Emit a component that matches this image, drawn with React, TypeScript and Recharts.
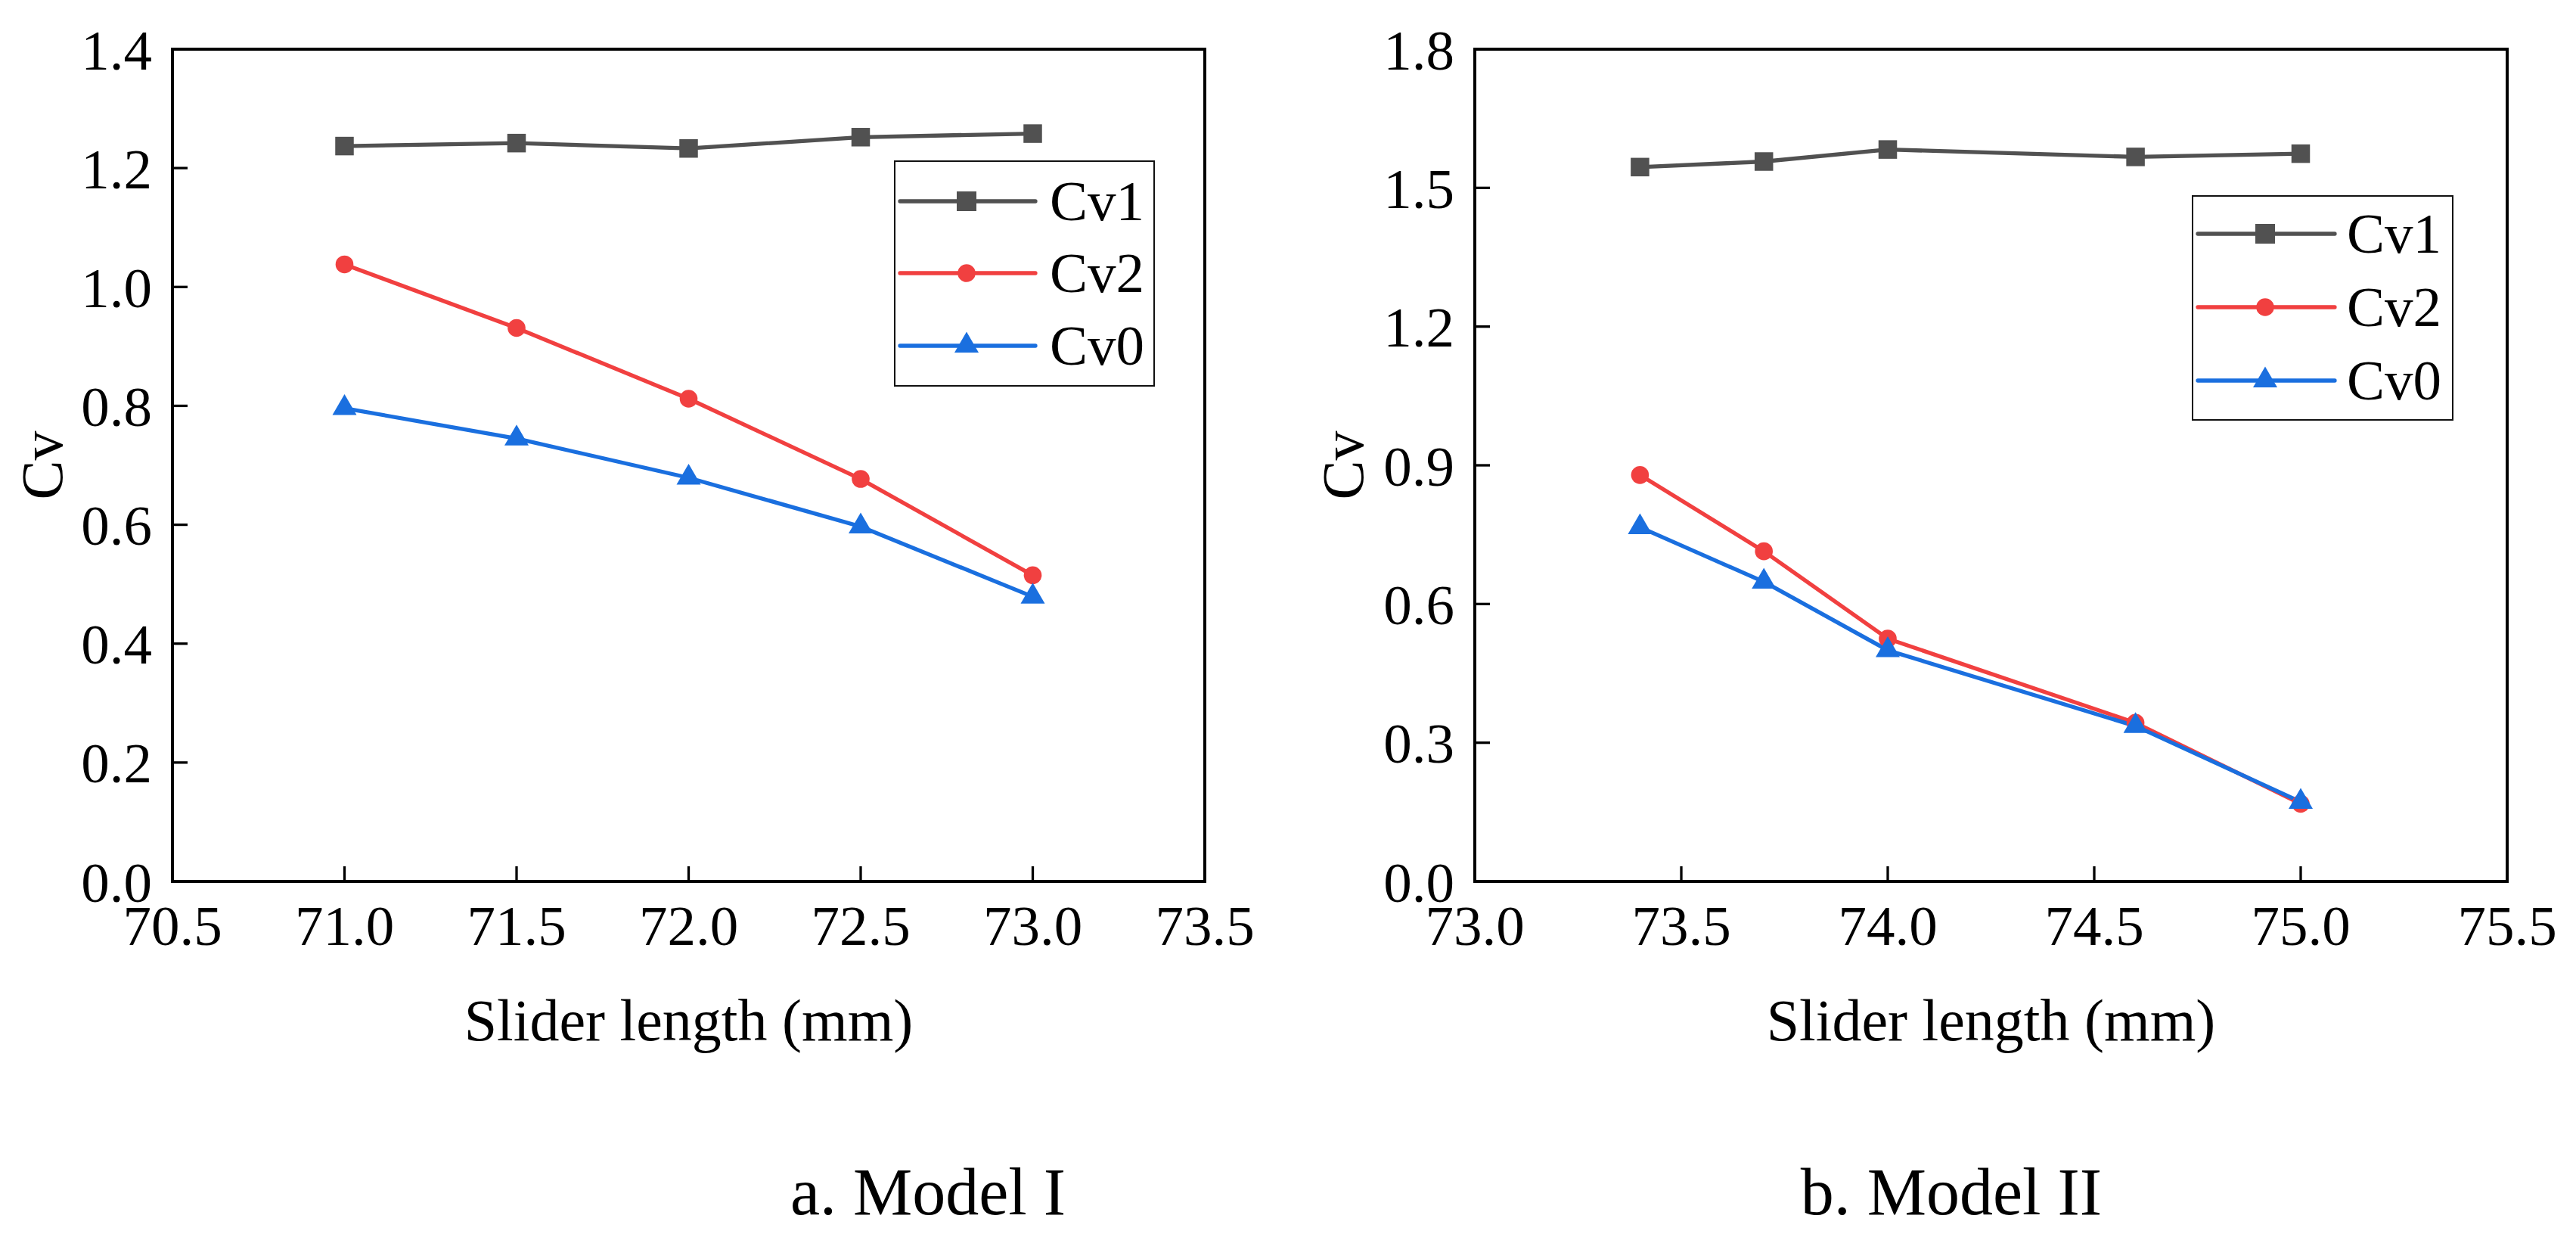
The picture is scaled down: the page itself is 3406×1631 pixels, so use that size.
import React from 'react';
import { LineChart, Line, XAxis, YAxis, Legend, Label } from 'recharts';

const FONT = "'Liberation Serif', 'Times New Roman', Times, serif";
const W = 1703;
const H = 1631;

// ---- Model I ----
const sliderI = [71.0, 71.5, 72.0, 72.5, 73.0];
const cv1I = [1.237, 1.242, 1.233, 1.252, 1.258];
const cv2I = [1.038, 0.931, 0.812, 0.677, 0.515];
const cv0I = [0.796, 0.745, 0.679, 0.597, 0.479];
const xTicksI = [70.5, 71.0, 71.5, 72.0, 72.5, 73.0, 73.5];
const yTicksI = [0, 0.2, 0.4, 0.6, 0.8, 1.0, 1.2, 1.4];

// ---- Model II ----
const sliderII = [73.4, 73.7, 74.0, 74.6, 75.0];
const cv1II = [1.545, 1.557, 1.583, 1.567, 1.574];
const cv2II = [0.879, 0.714, 0.525, 0.343, 0.168];
const cv0II = [0.766, 0.648, 0.5, 0.336, 0.172];
const xTicksII = [73.0, 73.5, 74.0, 74.5, 75.0, 75.5];
const yTicksII = [0, 0.3, 0.6, 0.9, 1.2, 1.5, 1.8];

const seriesNames = ['Cv1', 'Cv2', 'Cv0'];
const seriesColors = ['#515151', '#F14040', '#1A6FDF'];
const seriesShapes = ['square', 'circle', 'triangle'];

const captions = ['a. Model I', 'b. Model II'];

const dataI = sliderI.map((x, i) => ({ x, Cv1: cv1I[i], Cv2: cv2I[i], Cv0: cv0I[i] }));
const dataII = sliderII.map((x, i) => ({ x, Cv1: cv1II[i], Cv2: cv2II[i], Cv0: cv0II[i] }));

function Marker({ shape, cx, cy, color, big }: { shape: string; cx: number; cy: number; color: string; big?: boolean }) {
  if (shape === 'square') {
    const s = big ? 26 : 24.5;
    return <rect x={cx - s / 2} y={cy - s / 2} width={s} height={s} fill={color} />;
  }
  if (shape === 'circle') {
    return <circle cx={cx} cy={cy} r={big ? 11.8 : 11.8} fill={color} />;
  }
  return <polygon points={`${cx - 16},${cy + 9} ${cx + 16},${cy + 9} ${cx},${cy - 18.5}`} fill={color} />;
}

type LegendCfg = {
  left: number;
  top: number;
  w: number;
  h: number;
  rows: number[];
  line: [number, number];
  mark: number;
  text: number;
};

const makeLegend = (cfg: LegendCfg) => (props: any) => {
  const payload = props.payload || [];
  return (
    <svg width={cfg.w} height={cfg.h} style={{ display: 'block' }}>
      <rect x={1} y={1} width={cfg.w - 2} height={cfg.h - 2} fill="#fff" stroke="#111" strokeWidth={2} />
      {payload.map((entry: any) => {
        const idx = seriesNames.indexOf(entry.value);
        if (idx < 0) return null;
        const y = cfg.rows[idx];
        const color = seriesColors[idx];
        return (
          <g key={entry.value}>
            <line x1={cfg.line[0]} x2={cfg.line[1]} y1={y} y2={y} stroke={color} strokeWidth={5.3} strokeLinecap="round" />
            <Marker shape={seriesShapes[idx]} cx={cfg.mark} cy={y} color={color} big />
            <text x={cfg.text} y={y + 25} fontSize={75} fontFamily={FONT} fill="#000">
              {entry.value}
            </text>
          </g>
        );
      })}
    </svg>
  );
};

const XTick = (props: any) => (
  <text
    x={props.x}
    y={props.y}
    dy="0.71em"
    textAnchor="middle"
    fontSize={75}
    fontFamily={FONT}
    fill="#000"
  >
    {Number(props.payload.value).toFixed(1)}
  </text>
);

const YTick = (props: any) => (
  <text
    x={props.x}
    y={props.y}
    dy="0.355em"
    textAnchor="end"
    fontSize={75}
    fontFamily={FONT}
    fill="#000"
  >
    {Number(props.payload.value).toFixed(1)}
  </text>
);

type PanelProps = {
  left: number;
  data: any[];
  xDomain: [number, number];
  xTicks: number[];
  yDomain: [number, number];
  yTicks: number[];
  margin: { top: number; right: number; bottom: number; left: number };
  legend: LegendCfg;
  yLabelOffset: number;
};

const axisLineStyle = { stroke: '#000', strokeWidth: 4, strokeLinecap: 'square' as const };
const tickLineStyle = { stroke: '#000', strokeWidth: 3.3 };

function Panel(p: PanelProps) {
  return (
    <div style={{ position: 'absolute', left: p.left, top: 0, width: W, height: H }}>
      <LineChart width={W} height={H} data={p.data} margin={p.margin}>
        <XAxis
          dataKey="x"
          type="number"
          domain={p.xDomain}
          ticks={p.xTicks}
          interval={0}
          height={100}
          tickSize={-20}
          tickMargin={51}
          axisLine={axisLineStyle}
          tickLine={tickLineStyle}
          tick={XTick}
        >
          <Label value="Slider length (mm)" position="bottom" offset={55} fontSize={78} fontFamily={FONT} fill="#000" />
        </XAxis>
        <XAxis
          xAxisId="top"
          orientation="top"
          dataKey="x"
          type="number"
          domain={p.xDomain}
          ticks={p.xTicks}
          interval={0}
          height={10}
          tickSize={-20}
          axisLine={axisLineStyle}
          tickLine={tickLineStyle}
          tick={false}
        />
        <YAxis
          type="number"
          domain={p.yDomain}
          ticks={p.yTicks}
          interval={0}
          width={200}
          tickSize={-20}
          tickMargin={47}
          axisLine={axisLineStyle}
          tickLine={tickLineStyle}
          tick={YTick}
        >
          <Label
            value="Cv"
            angle={-90}
            position="insideLeft"
            offset={p.yLabelOffset}
            fontSize={78}
            fontFamily={FONT}
            fill="#000"
            style={{ textAnchor: 'middle' }}
          />
        </YAxis>
        <YAxis
          yAxisId="right"
          orientation="right"
          type="number"
          domain={p.yDomain}
          ticks={p.yTicks}
          interval={0}
          width={10}
          tickSize={-20}
          axisLine={axisLineStyle}
          tickLine={tickLineStyle}
          tick={false}
        />
        <Legend
          layout="vertical"
          align="center"
          verticalAlign="middle"
          width={p.legend.w}
          height={p.legend.h}
          wrapperStyle={{ left: p.legend.left, top: p.legend.top, width: p.legend.w, height: p.legend.h }}
          content={makeLegend(p.legend)}
        />
        {seriesNames.map((name, i) => (
          <Line
            key={name}
            dataKey={name}
            name={name}
            type="linear"
            stroke={seriesColors[i]}
            strokeWidth={5.3}
            isAnimationActive={false}
            dot={(d: any) => (
              <Marker key={`${name}-${d.index}`} shape={seriesShapes[i]} cx={d.cx} cy={d.cy} color={seriesColors[i]} />
            )}
            activeDot={false}
          />
        ))}
      </LineChart>
    </div>
  );
}

export default function App() {
  return (
    <div
      style={{
        position: 'fixed',
        left: 0,
        top: 0,
        width: 3406,
        height: 1631,
        overflow: 'hidden',
        background: '#fff',
      }}
    >
      <Panel
        left={0}
        data={dataI}
        xDomain={[70.5, 73.5]}
        xTicks={xTicksI}
        yDomain={[0, 1.4]}
        yTicks={yTicksI}
        margin={{ top: 55, right: 100, bottom: 366, left: 28 }}
        legend={{ left: 1182, top: 212, w: 345, h: 299, rows: [54, 149, 245], line: [8, 187], mark: 96, text: 206 }}
        yLabelOffset={26}
      />
      <Panel
        left={1703}
        data={dataII}
        xDomain={[73.0, 75.5]}
        xTicks={xTicksII}
        yDomain={[0, 1.8]}
        yTicks={yTicksII}
        margin={{ top: 55, right: 81, bottom: 366, left: 47 }}
        legend={{ left: 1195, top: 258, w: 346, h: 298, rows: [51, 148, 245], line: [8, 189], mark: 97, text: 205 }}
        yLabelOffset={24}
      />
      <svg
        width={3406}
        height={1631}
        style={{ position: 'absolute', left: 0, top: 0, pointerEvents: 'none' }}
      >
        <text x={1227} y={1605} textAnchor="middle" fontSize={88} fontFamily={FONT} fill="#000">
          {captions[0]}
        </text>
        <text x={2580} y={1605} textAnchor="middle" fontSize={88} fontFamily={FONT} fill="#000">
          {captions[1]}
        </text>
      </svg>
    </div>
  );
}
